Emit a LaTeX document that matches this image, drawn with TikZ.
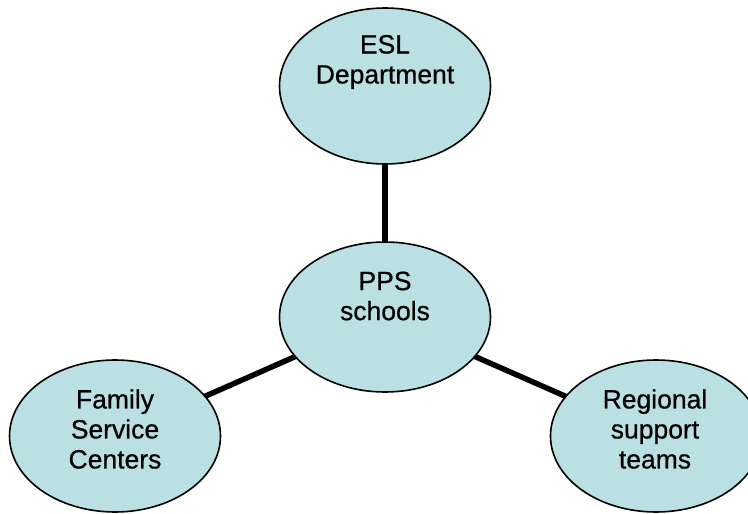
\documentclass[tikz,border=0pt]{standalone}
\usepackage{fontspec}
\setmainfont[FakeBold=0.6]{Liberation Sans}
\usetikzlibrary{shapes.geometric}
\definecolor{bubble}{HTML}{BBE0E3}
\tikzset{
  bubble/.style={ellipse, draw=black, line width=1.6pt, fill=bubble, minimum width=211pt, minimum height=152pt, inner sep=0pt},
  lbl/.style={align=center, font=\fontsize{26.5pt}{30pt}\selectfont, inner sep=0pt},
  link/.style={line width=5.5pt, black}
}
\begin{document}
\begin{tikzpicture}[x=1pt,y=-1pt]
\useasboundingbox (0,0) rectangle (748,514);
\coordinate (cEsl) at (385,86);
\coordinate (cPps) at (385,317);
\coordinate (cFam) at (115,436);
\coordinate (cReg) at (656,436);
\draw[link] (cEsl) -- (cPps);
\draw[link] (cPps) -- (cFam);
\draw[link] (cPps) -- (cReg);
\node[bubble, minimum height=156pt] (esl) at (cEsl) {};
\node[bubble, minimum height=150pt] (pps) at (cPps) {};
\node[bubble] (fam) at (cFam) {};
\node[bubble] (reg) at (cReg) {};
\node[lbl] (teslt) at (385,62) {ESL\\Department};
\node[lbl] (tppst) at (385,296) {PPS\\schools};
\node[lbl] (tfamt) at (115,429) {Family\\Service\\Centers};
\node[lbl] (tregt) at (655,429) {Regional\\support\\teams};
\end{tikzpicture}
\end{document}
